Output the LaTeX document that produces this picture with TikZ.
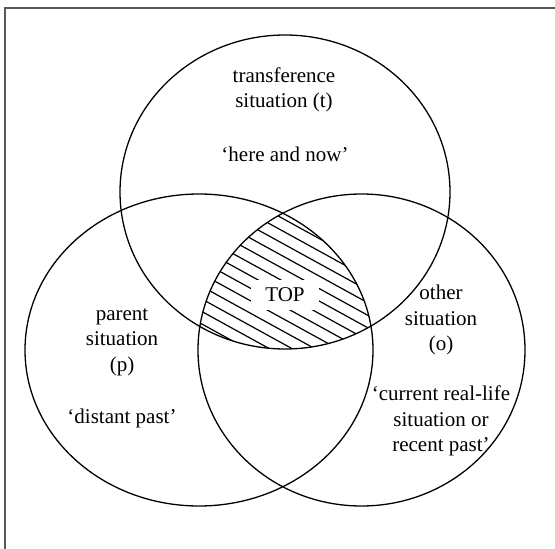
\documentclass[tikz,border=0pt]{standalone}
\usepackage{fontspec}
\setmainfont{Liberation Serif}
\begin{document}
\begin{tikzpicture}[x=1pt,y=-1pt,
  lbl/.style={font=\fontsize{21}{25.5}\selectfont, align=center, inner sep=0pt},
  ring/.style={draw=black, line width=1.3pt},
  hatch/.style={draw=black, line width=1.2pt},
  frameline/.style={draw=black!65, line width=1.2pt}]
\useasboundingbox (0,0) rectangle (555,549);
\draw[frameline] (5,549) coordinate (fbl) -- (5,8) coordinate (ftl) -- (555,8) coordinate (ftr);
% hatching of the triple intersection
\begin{scope}
  \clip (285,192) ellipse [x radius=165, y radius=157];
  \clip (199,350) ellipse [x radius=174, y radius=156];
  \clip (361.5,350) ellipse [x radius=163.5, y radius=156];
  \foreach \k in {0,...,20}
    \draw[hatch] (190,{130+12.5*\k}) -- (380,{130+12.5*\k+104.5});
\end{scope}
% circles
\draw[ring] (285,192) ellipse [x radius=165, y radius=157];
\draw[ring] (199,350) ellipse [x radius=174, y radius=156];
\draw[ring] (361.5,350) ellipse [x radius=163.5, y radius=156];
% labels
\node[lbl] (tname) at (284,90) {transference\\situation (t)};
\node[lbl] (tdesc) at (285,154) {‘here and now’};
\node[lbl, fill=white, inner xsep=14pt, inner ysep=8pt] (top) at (285,295) {TOP};
\node[lbl] (pname) at (122,342) {parent\\situation\\(p)};
\node[lbl] (pdesc) at (122,418) {‘distant past’};
\node[lbl] (oname) at (441,320) {other\\situation\\(o)};
\node[lbl] (odesc) at (441,421) {‘current real-life\\situation or\\recent past’};
\end{tikzpicture}
\end{document}
